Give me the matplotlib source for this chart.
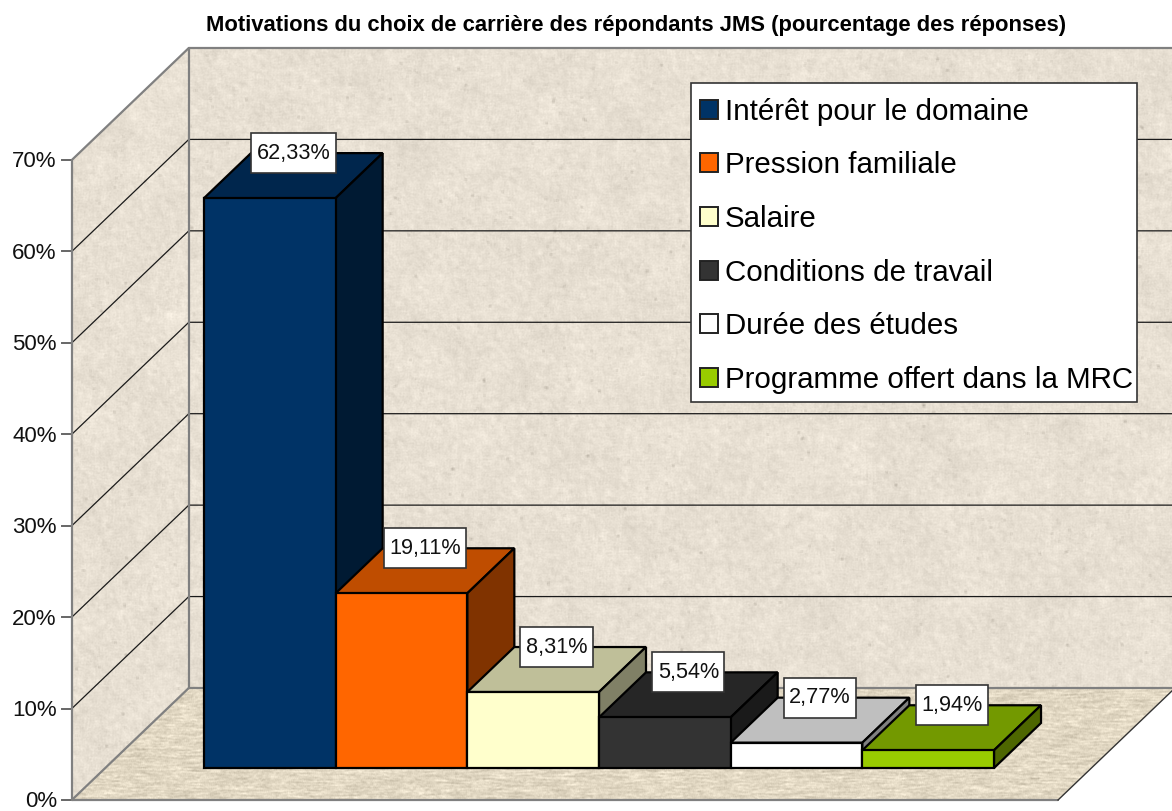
import numpy as np
import matplotlib
matplotlib.use('Agg')
import matplotlib.pyplot as plt
from matplotlib.patches import Polygon, Patch, Rectangle

plt.rcParams['font.family'] = ['Liberation Sans', 'DejaVu Sans']

title = 'Motivations du choix de carrière des répondants JMS (pourcentage des réponses)'
categories = ['Intérêt pour le domaine', 'Pression familiale', 'Salaire',
              'Conditions de travail', 'Durée des études', 'Programme offert dans la MRC']
values = [62.33, 19.11, 8.31, 5.54, 2.77, 1.94]
value_labels = ['62,33%', '19,11%', '8,31%', '5,54%', '2,77%', '1,94%']
colors = ['#003366', '#FF6600', '#FFFFCC', '#333333', '#FFFFFF', '#99CC00']
y_ticks = [0, 10, 20, 30, 40, 50, 60, 70]

W, H = 1172, 811
# one bar = 131.67 px wide, 1% = 9.143 px high, bars start at pixel (204, 768)
PX_X = 131.67
PX_Y = 9.143
# oblique depth: one bar depth goes 47 px right and 45 px up
DX = 47 / PX_X
DY = 45 / PX_Y
D_FRONT = -0.711
D_BACK = 1.778
X_LEFT = -0.75
X_RIGHT = 6.74


def proj(x, pct, depth=0):
    return x + DX * depth, pct + DY * depth


def shade(color, f):
    r, g, b = matplotlib.colors.to_rgb(color)
    return (r * f, g * f, b * f)


def blur(a, n, axis):
    out = a.copy()
    for i in range(1, n):
        out = out + np.roll(a, i, axis=axis)
    return out / n


# background texture only, the chart values do not come from this
rng = np.random.default_rng(7)
noise = rng.normal(size=(H, W))
wall_tex = blur(blur(noise, 5, 0), 5, 1) * 12 + blur(blur(rng.normal(size=(H, W)), 30, 0), 30, 1) * 60
wall_tex = wall_tex + 4 * blur(blur(noise, 2, 0), 2, 1)
specks = blur(blur(rng.normal(size=(H, W)), 3, 0), 3, 1)
wall_tex = wall_tex - 60 * blur(blur((specks > 0.95).astype(float), 3, 0), 3, 1)
wall_img = np.clip(np.dstack([232 + wall_tex, 224 + wall_tex, 211 + wall_tex]) / 255, 0, 1)
floor_tex = blur(blur(rng.normal(size=(H, W)), 12, 1), 2, 0) * 34
floor_tex = floor_tex + blur(blur(rng.normal(size=(H, W)), 3, 1), 2, 0) * 10
floor_img = np.clip(np.dstack([226 + floor_tex, 216 + floor_tex, 195 + floor_tex]) / 255, 0, 1)

fig = plt.figure(figsize=(W / 100, H / 100), dpi=100)
ax = fig.add_axes([0, 0, 1, 1])
xlim = (-204 / PX_X, (W - 204) / PX_X)
ylim = (-(H - 768) / PX_Y, 768 / PX_Y)
extent = (xlim[0], xlim[1], ylim[0], ylim[1])
ax.axis('off')

top = y_ticks[-1]
back_wall = Polygon([proj(X_LEFT, 0, D_BACK), proj(X_RIGHT + 1, 0, D_BACK),
                     proj(X_RIGHT + 1, top, D_BACK), proj(X_LEFT, top, D_BACK)],
                    closed=True, transform=ax.transData, fc='none', ec='none')
left_wall = Polygon([proj(X_LEFT, 0, D_FRONT), proj(X_LEFT, 0, D_BACK),
                     proj(X_LEFT, top, D_BACK), proj(X_LEFT, top, D_FRONT)],
                    closed=True, transform=ax.transData, fc='none', ec='none')
floor = Polygon([proj(X_LEFT, 0, D_FRONT), proj(X_RIGHT, 0, D_FRONT),
                 proj(X_RIGHT, 0, D_BACK), proj(X_LEFT, 0, D_BACK)],
                closed=True, transform=ax.transData, fc='none', ec='none')
for poly, img in [(back_wall, wall_img), (left_wall, wall_img), (floor, floor_img)]:
    ax.add_patch(poly)
    im = ax.imshow(img, extent=extent, aspect='auto', zorder=1, interpolation='bilinear')
    im.set_clip_path(poly)

# gridlines and ticks
for t in y_ticks:
    x0, y0 = proj(X_LEFT, t, D_FRONT)
    x1, y1 = proj(X_LEFT, t, D_BACK)
    x2, y2 = proj(X_RIGHT + 1, t, D_BACK)
    if t not in (0, top):
        ax.plot([x0, x1, x2], [y0, y1, y2], color='#1a1a1a', lw=0.9, zorder=2)
    ax.plot([x0 - 10 / PX_X, x0], [y0, y0], color='#666666', lw=1.4, zorder=2)
    ax.text(x0 - 15 / PX_X, y0 - 2 / PX_Y, f'{t}%', ha='right', va='center', fontsize=16,
            color='#111111', zorder=5)

# wall and floor edges
edge = dict(color='#808080', lw=1.6, zorder=3, solid_capstyle='round')
for a, b in [((X_LEFT, 0, D_FRONT), (X_LEFT, top, D_FRONT)),
             ((X_LEFT, top, D_FRONT), (X_LEFT, top, D_BACK)),
             ((X_LEFT, 0, D_FRONT), (X_LEFT, 0, D_BACK)),
             ((X_LEFT, 0, D_BACK), (X_LEFT, top, D_BACK)),
             ((X_LEFT, top, D_BACK), (X_RIGHT + 1, top, D_BACK)),
             ((X_LEFT, 0, D_FRONT), (X_RIGHT, 0, D_FRONT)),
             ((X_LEFT, 0, D_BACK), (X_RIGHT + 1, 0, D_BACK))]:
    pa, pb = proj(*a), proj(*b)
    ax.plot([pa[0], pb[0]], [pa[1], pb[1]], **edge)
pa, pb = proj(X_RIGHT, 0, D_FRONT), proj(X_RIGHT, 0, D_BACK)
ax.plot([pa[0], pb[0]], [pa[1], pb[1]], color='#333333', lw=1, zorder=3)

# bars
for i, (v, c) in enumerate(zip(values, colors)):
    z = 4 + i * 0.01
    style = dict(closed=True, ec='black', lw=1.6, joinstyle='miter', zorder=z)
    ax.add_patch(Polygon([proj(i, v), proj(i + 1, v), proj(i + 1, v, 1), proj(i, v, 1)],
                         fc=shade(c, 0.75), **style))
    ax.add_patch(Polygon([proj(i + 1, 0), proj(i + 1, 0, 1), proj(i + 1, v, 1), proj(i + 1, v)],
                         fc=shade(c, 0.5), **style))
    ax.add_patch(Polygon([proj(i, 0), proj(i + 1, 0), proj(i + 1, v), proj(i, v)],
                         fc=c, **style))

ax.set_xlim(xlim)
ax.set_ylim(ylim)

# value labels in fixed height boxes
renderer = fig.canvas.get_renderer()
for i, (v, lab) in enumerate(zip(values, value_labels)):
    cx, cy = proj(i + 0.5, v, 0.5)
    cy = cy + 22.5 / PX_Y
    txt = ax.text(cx, cy, lab, ha='center', va='center', fontsize=15.6, color='#111111', zorder=6)
    w = (txt.get_window_extent(renderer).width + 11) / PX_X
    h = 40 / PX_Y
    ax.add_patch(Rectangle((cx - w / 2, cy - h / 2), w, h, fc='white', ec='#333333', lw=1.2, zorder=5.5))

# legend box is drawn apart so its padding can differ per side
ax.add_patch(Rectangle((691 / W, 1 - 402 / H), 446 / W, 319 / H, transform=fig.transFigure,
                       fc='white', ec='#333333', lw=1.2, zorder=6.5))
handles = [Patch(fc=c, ec='#222222', lw=1.4, label=n) for c, n in zip(colors, categories)]
leg = ax.legend(handles=handles, loc='upper left',
                bbox_to_anchor=(699.5 / W, 1 - 97.5 / H), bbox_transform=fig.transFigure,
                fontsize=21.25, frameon=False, borderaxespad=0, borderpad=0,
                handlelength=0.61, handleheight=0.61, handletextpad=0.24, labelspacing=0.87)
leg.set_zorder(7)

fig.text(636 / W, 1 - 25.5 / H, title, ha='center', va='center', fontsize=15.85, fontweight='bold', color='black')

fig.savefig('out.png', dpi=100)
